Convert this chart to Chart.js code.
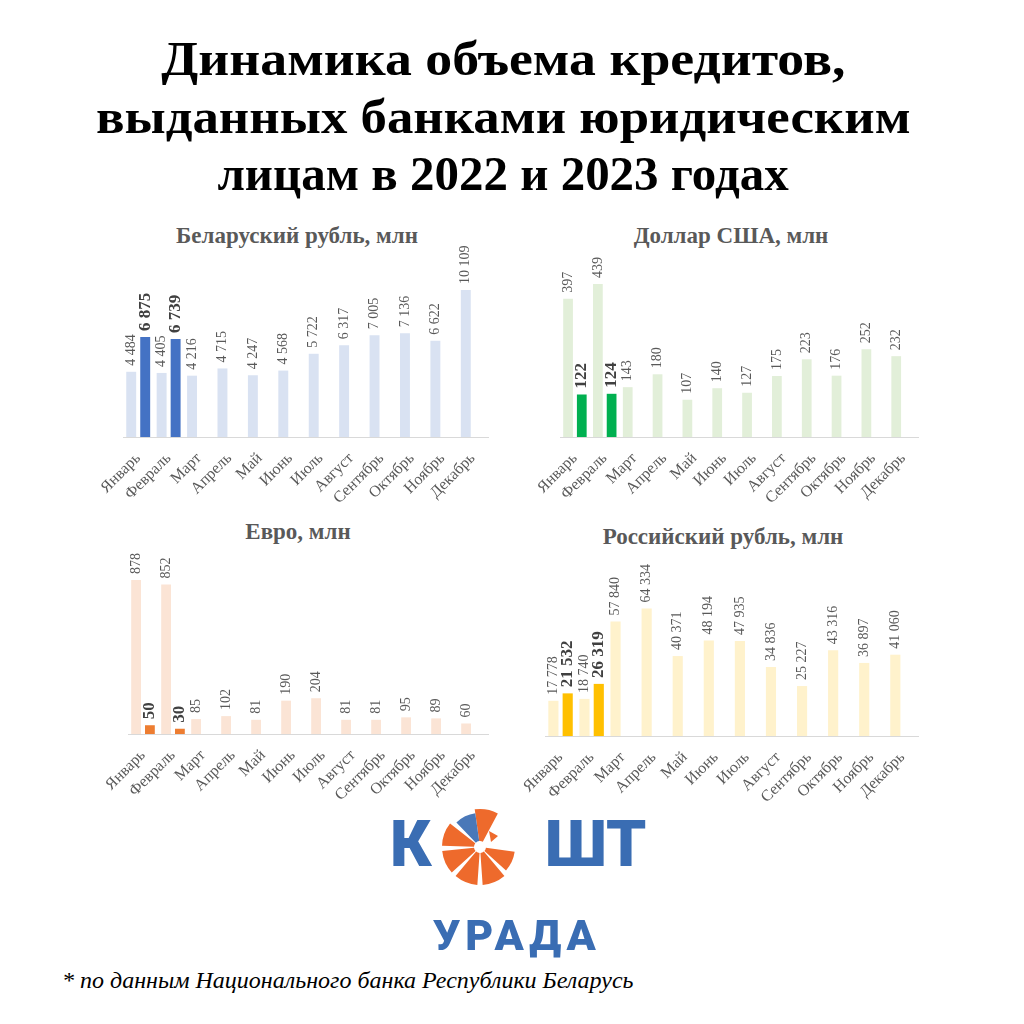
<!DOCTYPE html>
<html>
<head>
<meta charset="utf-8">
<script src="https://cdn.jsdelivr.net/npm/chart.js@4"></script>
<style>
  html, body { margin: 0; padding: 0; background: #fff; }
  body { width: 1024px; height: 1024px; position: relative; overflow: hidden; }
  .abs { position: absolute; }
  #title { left: 0; top: 30px; width: 1006px; text-align: center; font-family: "Liberation Serif", serif; font-weight: bold; font-size: 48px; line-height: 57.6px; color: #000; }
  #title span { display: inline-block; white-space: nowrap; }
  .sub { font-family: "Liberation Serif", serif; font-weight: bold; font-size: 23px; line-height: 23px; color: #595959; text-align: center; width: 400px; }
  #foot { left: 62px; top: 967px; font-family: "Liberation Serif", serif; font-style: italic; font-size: 24px; color: #000; white-space: nowrap; }
  .logo { font-family: Roboto, "DejaVu Sans", sans-serif; font-weight: 900; color: #3a6db3; line-height: 1; white-space: nowrap; }
</style>
</head>
<body>
<div id="title" class="abs"><span style="transform:scaleX(1.12)">Динамика объема кредитов,</span><br><span style="transform:scaleX(1.10)">выданных банками юридическим</span><br><span style="transform:scaleX(1.02)">лицам в 2022 и 2023 годах</span></div>

<div class="abs sub" style="left:97px; top:224px;">Беларуский рубль, млн</div>
<div class="abs sub" style="left:531px; top:224px;">Доллар США, млн</div>
<div class="abs sub" style="left:98px; top:520px;">Евро, млн</div>
<div class="abs sub" style="left:523px; top:525px;">Российский рубль, млн</div>

<canvas id="cByn" class="abs" width="435" height="287" style="left:63px; top:230px;"></canvas>
<canvas id="cUsd" class="abs" width="428" height="287" style="left:500px; top:230px;"></canvas>
<canvas id="cEur" class="abs" width="430" height="284" style="left:68px; top:530px;"></canvas>
<canvas id="cRub" class="abs" width="443" height="286" style="left:485px; top:530px;"></canvas>

<div class="abs logo" style="left:390px; top:813px; font-size:64px;">К</div>
<svg class="abs" id="wheel" width="90" height="90" style="left:435px; top:802px;"></svg>
<div class="abs logo" style="left:545px; top:813px; font-size:64px;">ШТ</div>
<div class="abs logo" style="left:433px; top:914px; font-size:43px; letter-spacing:5px;">УРАДА</div>

<div id="foot" class="abs">* по данным Национального банка Республики Беларусь</div>

<script>
// ---- Data ----
const months = ["Январь", "Февраль", "Март", "Апрель", "Май", "Июнь", "Июль", "Август", "Сентябрь", "Октябрь", "Ноябрь", "Декабрь"];

const byn2022 = [4484, 4405, 4216, 4715, 4247, 4568, 5722, 6317, 7005, 7136, 6622, 10109];
const byn2023 = [6875, 6739, null, null, null, null, null, null, null, null, null, null];

const usd2022 = [397, 439, 143, 180, 107, 140, 127, 175, 223, 176, 252, 232];
const usd2023 = [122, 124, null, null, null, null, null, null, null, null, null, null];

const eur2022 = [878, 852, 85, 102, 81, 190, 204, 81, 81, 95, 89, 60];
const eur2023 = [50, 30, null, null, null, null, null, null, null, null, null, null];

const rub2022 = [17778, 18740, 57840, 64334, 40371, 48194, 47935, 34836, 25227, 43316, 36897, 41060];
const rub2023 = [21532, 26319, null, null, null, null, null, null, null, null, null, null];

// ---- Helpers ----
function fmt(v) {
  return String(v).replace(/\B(?=(\d{3})+(?!\d))/g, ' ');
}

const valueLabels = {
  id: 'valueLabels',
  afterDatasetsDraw(chart) {
    const ctx = chart.ctx;
    chart.data.datasets.forEach((ds, di) => {
      const meta = chart.getDatasetMeta(di);
      const bold = di === 1;
      meta.data.forEach((el, i) => {
        const v = ds.data[i];
        if (v === null || v === undefined) return;
        ctx.save();
        ctx.translate(el.x, el.y - 6);
        ctx.rotate(-Math.PI / 2);
        ctx.font = bold ? 'bold 17px "Liberation Serif", serif' : '14px "Liberation Serif", serif';
        ctx.fillStyle = bold ? '#404040' : '#595959';
        ctx.textAlign = 'left';
        ctx.textBaseline = 'middle';
        ctx.fillText(fmt(v), 0, 0);
        ctx.restore();
      });
    });
  }
};

function makeChart(id, light, dark, lightColor, darkColor, yMax) {
  new Chart(document.getElementById(id), {
    type: 'bar',
    data: {
      labels: months,
      datasets: [
        { label: '2022', data: light, backgroundColor: lightColor, categoryPercentage: 0.92, barPercentage: 0.71 },
        { label: '2023', data: dark, backgroundColor: darkColor, categoryPercentage: 0.92, barPercentage: 0.71 }
      ]
    },
    options: {
      responsive: false,
      animation: false,
      devicePixelRatio: 1,
      layout: { padding: { left: 60, right: 10, top: 30, bottom: 0 } },
      plugins: { legend: { display: false }, tooltip: { enabled: false }, title: { display: false } },
      scales: {
        x: {
          grid: { display: false, drawTicks: false },
          border: { display: true, color: '#d9d9d9', width: 1 },
          ticks: {
            autoSkip: false,
            minRotation: 45,
            maxRotation: 45,
            padding: 12,
            color: '#595959',
            font: { family: '"Liberation Serif", serif', size: 16 }
          },
          afterFit(scale) { scale.height = 80; scale.paddingLeft = 0; scale.paddingRight = 0; }
        },
        y: { display: false, min: 0, max: yMax }
      }
    },
    plugins: [valueLabels]
  });
}

makeChart('cByn', byn2022, byn2023, '#d9e2f2', '#4472c4', 12172);
makeChart('cUsd', usd2022, usd2023, '#e2efd9', '#00b050', 508);
makeChart('cEur', eur2022, eur2023, '#fbe4d5', '#ed7d31', 992);
makeChart('cRub', rub2022, rub2023, '#fff2cc', '#ffc000', 88890);

// ---- Logo wheel (decoration) ----
(function () {
  const svg = document.getElementById('wheel');
  const cx = 45, cy = 45, R = 38, r = 6;
  const segs = [
    [-98, -62, '#ee6a2c', R],
    [8, 42, '#ee6a2c', R - 3],
    [50, 86, '#ee6a2c', R],
    [94, 130, '#ee6a2c', R],
    [138, 174, '#ee6a2c', R],
    [182, 218, '#ee6a2c', R],
    [226, 262, '#4a78b8', R - 4]
  ];
  function pt(a, rad) {
    const t = a * Math.PI / 180;
    return [cx + rad * Math.cos(t), cy + rad * Math.sin(t)];
  }
  let html = '';
  segs.forEach(s => {
    const [a0, a1, col, rr] = s;
    const p0 = pt(a0, r), p1 = pt(a0, rr), p2 = pt(a1, rr), p3 = pt(a1, r);
    html += `<path d="M${p0[0]},${p0[1]} L${p1[0]},${p1[1]} A${rr},${rr} 0 0 1 ${p2[0]},${p2[1]} L${p3[0]},${p3[1]} A${r},${r} 0 0 0 ${p0[0]},${p0[1]} Z" fill="${col}"/>`;
  });
  const sp = pt(-40, 17);
  html += `<path d="M${sp[0]-4},${sp[1]-5} L${sp[0]+5},${sp[1]} L${sp[0]-2},${sp[1]+6} Z" fill="#ee6a2c"/>`;
  svg.innerHTML = html;
})();
</script>
</body>
</html>
